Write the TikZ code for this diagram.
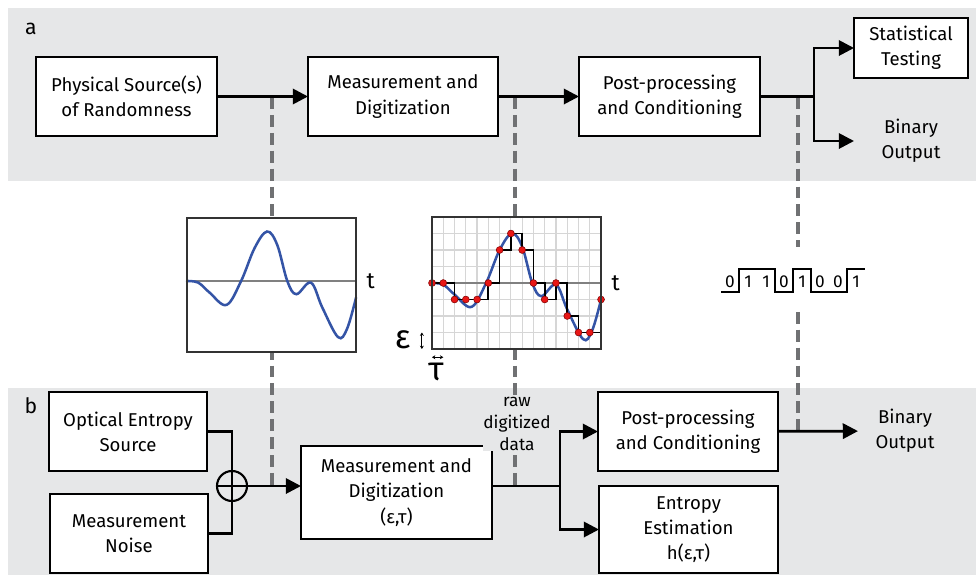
\documentclass[tikz,border=0pt]{standalone}
\usepackage{fontspec}
\setmainfont{Fira Sans}
\usetikzlibrary{arrows.meta}
\definecolor{bandgray}{RGB}{230,231,232}
\definecolor{probegray}{RGB}{112,113,115}
\definecolor{gridgray}{RGB}{214,214,214}
\definecolor{wave}{RGB}{52,84,166}
\definecolor{dotred}{RGB}{232,22,22}
\xdef\LWB{1.6pt}
\xdef\LWA{2.1pt}
\xdef\PX{0.0265cm}

\begin{document}
\begin{tikzpicture}[x=\PX,y=-\PX,inner sep=0,outer sep=0,
  dims/.style 2 args={minimum width=#1*\PX,minimum height=#2*\PX},
  box/.style={draw,line width=\LWB,fill=white,align=center,font=\fontsize{14}{19}\selectfont},
  txt/.style={align=center,font=\fontsize{14}{19}\selectfont},
  link/.style={line width=\LWA,-{Triangle[length=11.5pt,width=11.5pt]}},
  wire/.style={line width=\LWA},
  probe/.style={line width=3.3pt,probegray,dash pattern=on 9pt off 4.5pt},
  plotbox/.style={draw=black!80,line width=1.5pt},
  axisline/.style={line width=2.2pt,black!50},
  signal/.style={line width=1.9pt,wave,line cap=round},
  dimarrow/.style={line width=0.6pt,{Stealth[length=2.5pt,width=3pt]}-{Stealth[length=2.5pt,width=3pt]}}]
\useasboundingbox (0,0) rectangle (976,575);
% panels
\fill[bandgray] (8,8) rectangle (976,181);
\fill[bandgray] (8,388) rectangle (976,575);
\node[font=\fontsize{16}{16}\selectfont] (lbla) at (31,29) {a};
\node[font=\fontsize{16}{16}\selectfont] (lblb) at (31,406) {b};

% probes between the two chains
\coordinate (tap1a) at (272,97);  \coordinate (tap1b) at (272,486);
\coordinate (tap2a) at (515,97);  \coordinate (tap2b) at (515,486);
\coordinate (tap3a) at (798,97);  \coordinate (tap3b) at (798,431);
\draw[probe] (tap1a) -- (tap1b);
\draw[probe] (tap2a) -- (tap2b);
\draw[probe] (tap3a) -- (tap3b);

% analog signal
\begin{scope}[shift={(187,281)},x=0.2987cm,y=0.4373cm]
\fill[white] (0,-4.3) rectangle (15,3.8);
\draw[axisline] (0,0) -- (15,0);
\draw[signal] plot[smooth,tension=0.6] coordinates {(0,0) (1,-0.1) (2,-0.7) (3.5,-1.45) (4.8,0) (6,2.0) (7.1,3.0) (8,2.2) (8.9,0) (9.7,-0.8) (11,-0.1) (12,-1.6) (13.4,-3.4) (14.2,-2.9) (15,-1.0)};
\draw[plotbox] (0,-4.3) rectangle (15,3.8);
\node[font=\fontsize{17}{17}\selectfont] (t1) at (16.3,0) {t};
\end{scope}

% sampled signal
\begin{scope}[shift={(432,283)},x=0.2987cm,y=0.4373cm]
\fill[white] (0,-4) rectangle (15,4);
\draw[gridgray,line width=0.9pt,step=1] (0,-4) grid (15,4);
\draw[axisline] (0,0) -- (15,0);
\draw[signal] plot[smooth,tension=0.6] coordinates {(0,0) (1,-0.1) (2,-0.7) (3.5,-1.45) (4.8,0) (6,2.0) (7.1,3.0) (8,2.2) (8.9,0) (9.7,-0.8) (11,-0.1) (12,-1.6) (13.4,-3.4) (14.2,-2.9) (15,-1.0)};
\draw[line width=1.3pt] (0,0) \foreach \k [count=\i] in {0,-1,-1,-1,0,2,3,2,0,-1,0,-2,-3,-3,-1} { -| (\i,\k) };
\foreach \k [count=\i from 0] in {0,0,-1,-1,-1,0,2,3,2,0,-1,0,-2,-3,-3,-1}
  \filldraw[fill=dotred,draw=red!50!black,line width=0.4pt] (\i,\k) circle (2.6pt);
\draw[plotbox] (0,-4) rectangle (15,4);
\node[font=\fontsize{17}{17}\selectfont] (t2) at (16.3,0) {t};
\draw[dimarrow] (-0.9,-3) -- (-0.9,-4);
\draw[dimarrow] (0,-4.5) -- (1,-4.5);
\node[font=\fontsize{25}{25}\selectfont] (eps) at (-2.6,-3.45) {ε};
\node[font=\fontsize{25}{25}\selectfont] (tau) at (0.35,-5.4) {τ};
\end{scope}

% bit stream
\fill[white] (712,247) rectangle (876,307);
\foreach \b [count=\j from 0] in {0,1,1,0,1,0,0,1}
  \node[font=\fontsize{13}{13}\selectfont] (bit\j) at (730+18*\j,282) {\b};
\draw[line width=1.4pt] (721,292) \foreach \b [count=\j from 0] in {0,1,1,0,1,0,0,1} { -- (721+18*\j,292-23*\b) -- (739+18*\j,292-23*\b) };

% a: generic chain
\node[box,dims={181}{79}] (src) at (126.5,96.5) {Physical Source(s)\\of Randomness};
\node[box,dims={190}{79}] (meas) at (403,96.5) {Measurement and\\Digitization};
\node[box,dims={181}{79}] (post) at (669.5,96.5) {Post-processing\\and Conditioning};
\node[box,dims={114}{60}] (stat) at (911,48) {Statistical\\Testing};
\node[txt,dims={114}{50}] (binA) at (911,141) {Binary\\Output};
\coordinate (split) at (814,96.5);
\draw[link] (src) -- (meas);
\draw[link] (meas) -- (post);
\draw[wire] (post.east) -- (split);
\draw[link] (split) |- (stat.west);
\draw[link] (split) |- (binA.west);

% b: optical chain
\node[box,dims={158}{79}] (opt) at (128,431.5) {Optical Entropy\\Source};
\node[box,dims={158}{79}] (noise) at (129,533.5) {Measurement\\Noise};
\node[draw,circle,line width=\LWB,minimum size=30*\PX] (sum) at (232,486) {};
\draw[line width=\LWB] (sum.north) -- (sum.south) (sum.west) -- (sum.east);
\node[box,dims={191}{93}] (measB) at (396.5,492.5) {Measurement and\\Digitization\\(ε,τ)};
\node[box,dims={180}{79}] (postB) at (688,431.5) {Post-processing\\and Conditioning};
\node[box,dims={179}{87}] (ent) at (688.5,529.5) {Entropy\\Estimation\\h(ε,τ)};
\node[txt,dims={94}{50}] (binB) at (905,431) {Binary\\Output};
\node[txt,fill=bandgray,font=\fontsize{13}{16.5}\selectfont] (raw) at (517,424) {raw\\digitized\\data};
\coordinate (fork) at (560,486);
\draw[wire] (opt.east) -| (sum.north);
\draw[wire] (noise.east) -| (sum.south);
\draw[link] (sum.east) -- (sum -| measB.west);
\draw[wire] (sum -| measB.east) -- (fork);
\draw[link] (fork) |- (postB.west);
\draw[link] (fork) |- (ent.west);
\draw[link] (postB) -- (binB);
\end{tikzpicture}
\end{document}
